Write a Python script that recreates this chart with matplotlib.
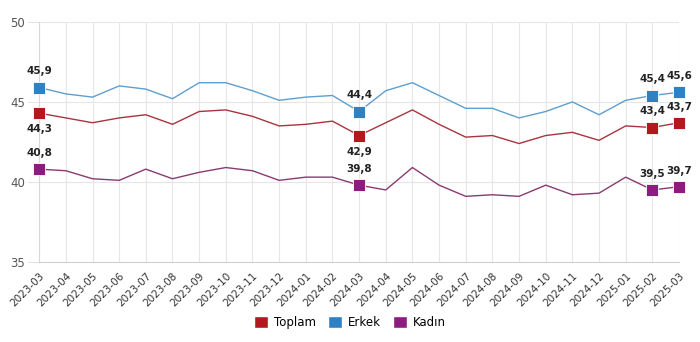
import numpy as np
import matplotlib.pyplot as plt
from matplotlib.patches import Patch

months = ['2023-03', '2023-04', '2023-05', '2023-06', '2023-07', '2023-08', '2023-09',
          '2023-10', '2023-11', '2023-12', '2024-01', '2024-02', '2024-03', '2024-04',
          '2024-05', '2024-06', '2024-07', '2024-08', '2024-09', '2024-10', '2024-11',
          '2024-12', '2025-01', '2025-02', '2025-03']

toplam = [44.3, 44.0, 43.7, 44.0, 44.2, 43.6, 44.4, 44.5, 44.1, 43.5, 43.6, 43.8, 42.9,
          43.7, 44.5, 43.6, 42.8, 42.9, 42.4, 42.9, 43.1, 42.6, 43.5, 43.4, 43.7]
erkek = [45.9, 45.5, 45.3, 46.0, 45.8, 45.2, 46.2, 46.2, 45.7, 45.1, 45.3, 45.4, 44.4,
         45.7, 46.2, 45.4, 44.6, 44.6, 44.0, 44.4, 45.0, 44.2, 45.1, 45.4, 45.6]
kadin = [40.8, 40.7, 40.2, 40.1, 40.8, 40.2, 40.6, 40.9, 40.7, 40.1, 40.3, 40.3, 39.8,
         39.5, 40.9, 39.8, 39.1, 39.2, 39.1, 39.8, 39.2, 39.3, 40.3, 39.5, 39.7]

# highlighted points: index -> label above (True) or below (False)
marks = {
    'Toplam': {0: False, 12: False, 23: True, 24: True},
    'Erkek': {0: True, 12: True, 23: True, 24: True},
    'Kadın': {0: True, 12: True, 23: True, 24: True},
}

series = [
    ('Toplam', toplam, '#a8343f', '#b3191c'),
    ('Erkek', erkek, '#5f9fcc', '#2e82c4'),
    ('Kadın', kadin, '#8a3a70', '#8e1b80'),
]

fig = plt.figure(figsize=(7, 3.42), dpi=100)
ax = fig.add_axes([0.056, 0.234, 0.914, 0.702])

x = np.arange(len(months))
for name, vals, lc, mc in series:
    ax.plot(x, vals, color=lc, lw=1.0, zorder=3, clip_on=False)
    for i, above in marks[name].items():
        ax.plot(x[i], vals[i], marker='s', ms=9, color=mc, mec='#ffffff', mew=0.6,
                zorder=4, clip_on=False)
        lab = ('%.1f' % vals[i]).replace('.', ',')
        if above:
            ax.annotate(lab, (x[i], vals[i]), xytext=(0, 8), textcoords='offset points',
                        ha='center', va='bottom', fontsize=7.5, fontweight='bold', color='#222222',
                        annotation_clip=False)
        else:
            ax.annotate(lab, (x[i], vals[i]), xytext=(0, -8), textcoords='offset points',
                        ha='center', va='top', fontsize=7.5, fontweight='bold', color='#222222',
                        annotation_clip=False)

ax.set_xlim(0, len(months) - 1)
ax.set_ylim(35, 50)
ax.set_yticks([35, 40, 45, 50])
ax.set_xticks(x)
ax.set_xticklabels(months, rotation=45, ha='right', rotation_mode='anchor', fontsize=7.5, color='#333333')
ax.tick_params(axis='y', labelsize=8.5, labelcolor='#555555', length=8, color='#e3e3e3', pad=2)
ax.tick_params(axis='x', length=0, pad=6)
ax.grid(True, color='#e6e6e6', lw=0.8)
for s in ['top', 'right']:
    ax.spines[s].set_visible(False)
ax.spines['left'].set_color('#d8d8d8')
ax.spines['bottom'].set_color('#d0d0d0')

handles = [Patch(facecolor=mc, edgecolor='#ffffff', label=name) for name, _, _, mc in series]
fig.legend(handles=handles, loc='center', bbox_to_anchor=(0.5, 0.058), ncol=3, frameon=False,
           fontsize=8.5, handlelength=1.2, handleheight=1.2, handletextpad=0.5, columnspacing=1.0)

fig.savefig('out.png', dpi=100)
